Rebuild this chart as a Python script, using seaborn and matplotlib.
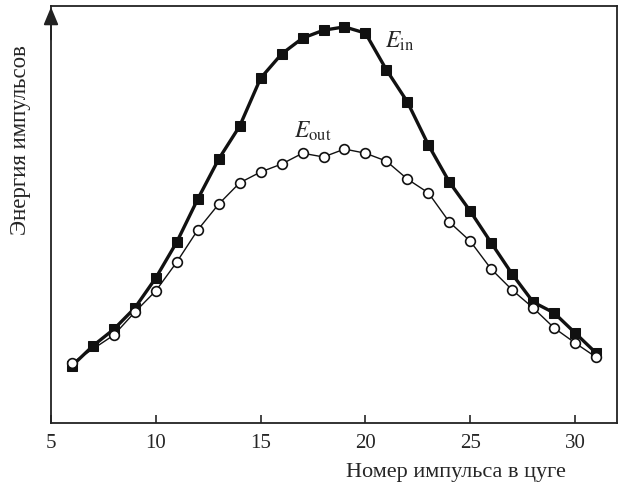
import numpy as np
import pandas as pd
import seaborn as sns
import matplotlib.pyplot as plt

# данные (условные единицы по оси y)
pulse_in = list(range(6, 32))
e_in = [13.7, 18.5, 22.5, 27.6, 34.8, 43.4, 53.7, 63.3, 71.2, 82.7, 88.5, 92.3, 94.2,
        95.0, 93.5, 84.7, 77.0, 66.7, 57.8, 50.8, 43.2, 35.7, 29.0, 26.4, 21.6, 16.8]

pulse_out = [6] + list(range(8, 32))
e_out = [14.4, 21.1, 26.6, 31.7, 38.6, 46.3, 52.5, 57.6, 60.2, 62.1, 64.7, 63.8,
         65.7, 64.7, 62.8, 58.5, 55.2, 48.2, 43.6, 36.9, 31.9, 27.6, 22.8, 19.2, 15.8]

xticks = [5, 10, 15, 20, 25, 30]

sns.set_style('ticks')
plt.rcParams['font.family'] = ['Liberation Serif', 'DejaVu Serif']
plt.rcParams['mathtext.fontset'] = 'stix'

df_in = pd.DataFrame({'n': pulse_in, 'E': e_in})
df_out = pd.DataFrame({'n': pulse_out, 'E': e_out})

fig = plt.figure(figsize=(6.22, 4.86), dpi=100)
ax = fig.add_axes([0.082, 0.1296, 0.91, 0.858])

sns.lineplot(data=df_in, x='n', y='E', ax=ax, color='#111111', linewidth=2.4,
             marker='s', markersize=7, markeredgecolor='#111111', markerfacecolor='#111111')
sns.lineplot(data=df_out, x='n', y='E', ax=ax, color='#111111', linewidth=1.0,
             marker='o', markersize=7, markeredgecolor='#111111', markerfacecolor='white',
             markeredgewidth=1.2)

ax.set_xlim(5, 32)
ax.set_ylim(0, 100)
ax.set_xticks(xticks)
ax.set_yticks([])
ax.tick_params(axis='x', direction='in', length=5.5, width=1.2, pad=8, labelsize=15, top=False)

for s in ax.spines.values():
    s.set_linewidth(1.3)
    s.set_color('#222222')

ax.set_xlabel('Номер импульса в цуге', fontsize=16)
ax.xaxis.set_label_coords(0.715, -0.095)
ax.set_ylabel('Энергия импульсов', fontsize=16.5)
ax.yaxis.set_label_coords(-0.035, 0.679)

# стрелка на оси y
ax.annotate('', xy=(0, 0.9976), xytext=(0, 0.92), xycoords='axes fraction',
            arrowprops=dict(arrowstyle='-|>,head_length=0.6,head_width=0.25',
                            color='#222222', lw=1.3, mutation_scale=18,
                            shrinkA=0, shrinkB=0))

ax.text(20.94, 90.0, r'$E_{\mathrm{in}}$', fontsize=17)
ax.text(16.58, 68.5, r'$E_{\mathrm{out}}$', fontsize=17)

fig.savefig('out.png', dpi=100)
